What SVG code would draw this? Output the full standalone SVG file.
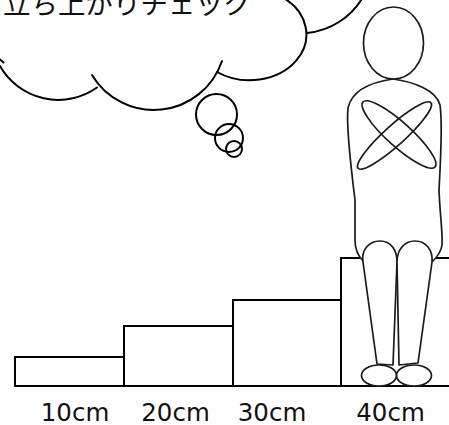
<svg xmlns="http://www.w3.org/2000/svg" width="449" height="425" viewBox="0 0 449 425">
  <style>
    .line { fill: none; stroke: #000; stroke-width: 2; stroke-linecap: round; }
    .step { fill: #fff; stroke: #000; stroke-width: 2; }
    .fig { fill: #fff; stroke: #1a1a1a; stroke-width: 1.7; stroke-linejoin: round; }
    .arm { fill: none; stroke: #1a1a1a; stroke-width: 1.7; }
    .label { font-family: "DejaVu Sans", "Noto Sans CJK JP", sans-serif; font-size: 24.5px; fill: #111; text-anchor: middle; }
    .title { font-family: "Noto Sans CJK JP", sans-serif; font-size: 27.5px; fill: #111; }
  </style>
  <rect width="449" height="425" fill="#fff"/>

  <!-- thought cloud (top part runs off the page) -->
  <g id="cloud">
    <path class="line" d="M0,59.5 L3.5,62.5"/>
    <path class="line" d="M0,66 A67,67 0 0 0 97,87.5"/>
    <path class="line" d="M92,75 A72,72 0 0 0 222,61"/>
    <path class="line" d="M217,72 A56,45 0 1 0 282,-3"/>
    <path class="line" d="M307,33 A73,73 0 0 0 363,-3"/>
    <text class="title" x="3" y="14">立ち上がりチェック</text>
  </g>

  <!-- thought bubbles -->
  <g id="bubbles">
    <circle class="line" cx="216.5" cy="114.5" r="20.5"/>
    <circle class="line" cx="229" cy="138" r="14"/>
    <circle class="line" cx="234" cy="149" r="8"/>
  </g>

  <!-- step boxes -->
  <g id="step-10">
    <rect class="step" x="15" y="357" width="109" height="29"/>
  </g>
  <g id="step-20">
    <rect class="step" x="124" y="326" width="109" height="60"/>
  </g>
  <g id="step-30">
    <rect class="step" x="233" y="300" width="108" height="86"/>
  </g>
  <g id="step-40">
    <rect class="step" x="341" y="258" width="120" height="128"/>
  </g>

  <!-- seated person -->
  <g id="person">
    <path class="fig" d="M393,79 C372,82 352,90 348,108 C346,125 350,160 355,200 L355,240 C355,250 358,256 363,261
                         L433,261 C437,257 441,252 442,245 C443,235 440,215 439,190 C440,170 443,125 440,105 C436,90 414,82 393,79 Z"/>
    <ellipse class="fig" cx="393.5" cy="43" rx="30" ry="36"/>
    <ellipse class="arm" cx="399" cy="134.5" rx="48.5" ry="12" transform="rotate(42 399 134.5)"/>
    <ellipse class="arm" cx="394.5" cy="135.5" rx="49" ry="10" transform="rotate(-42 394.5 135.5)"/>
    <path class="fig" d="M377,364 L363,262 C361,250 369,241 380,241 C391,241 397,250 397,262 L393,365 Z"/>
    <path class="fig" d="M399,365 L397,262 C397,250 404,241 415,241 C426,241 433,250 432,262 L418,363 Z"/>
    <ellipse class="fig" cx="379" cy="375.5" rx="17.5" ry="10.5"/>
    <ellipse class="fig" cx="414" cy="375.5" rx="17.5" ry="10.5"/>
  </g>

  <!-- height labels -->
  <g id="labels">
    <text class="label" x="75" y="420.5">10cm</text>
    <text class="label" x="175.5" y="420.5">20cm</text>
    <text class="label" x="272" y="420.5">30cm</text>
    <text class="label" x="390.5" y="420.5">40cm</text>
  </g>
</svg>
